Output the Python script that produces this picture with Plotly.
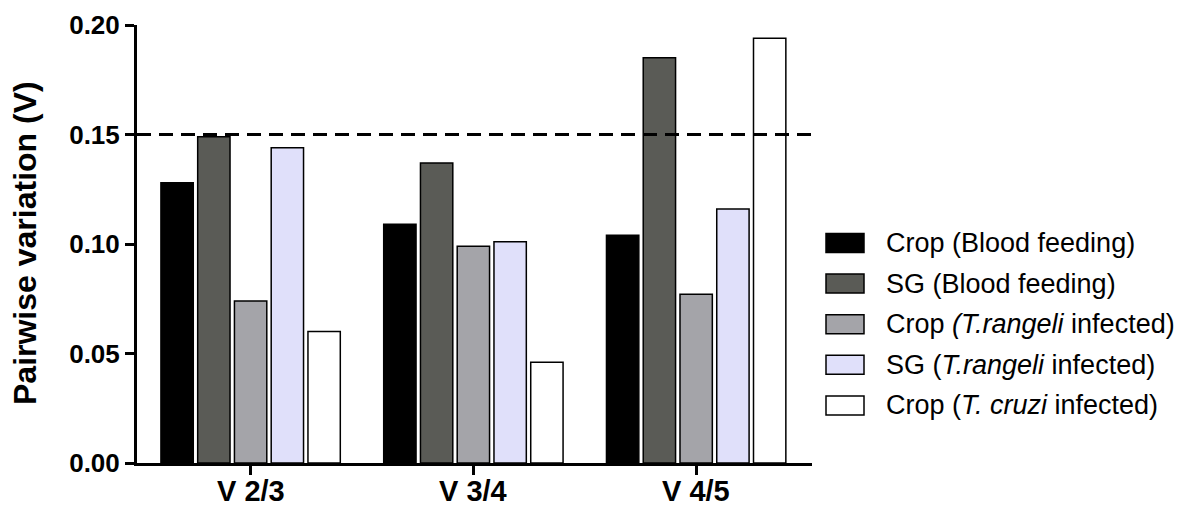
import plotly.graph_objects as go

categories = ["V 2/3", "V 3/4", "V 4/5"]
series_names = [
    "Crop (Blood feeding)",
    "SG (Blood feeding)",
    "Crop <i>(T.rangeli</i> infected)",
    "SG (<i>T.rangeli</i> infected)",
    "Crop (<i>T. cruzi</i> infected)",
]
crop_blood = [0.128, 0.109, 0.104]
sg_blood = [0.149, 0.137, 0.185]
crop_trangeli = [0.074, 0.099, 0.077]
sg_trangeli = [0.144, 0.101, 0.116]
crop_tcruzi = [0.060, 0.046, 0.194]
series_values = [crop_blood, sg_blood, crop_trangeli, sg_trangeli, crop_tcruzi]
colors = ["#000000", "#5a5b56", "#a4a4a9", "#e0e0fa", "#ffffff"]
threshold = 0.15
y_ticks = [0.00, 0.05, 0.10, 0.15, 0.20]

FONT = "Liberation Sans"
W, H = 1200, 508
L, R, T, B = 137, 388, 25, 45
pw = W - L - R
ph = H - T - B

fig = go.Figure()
for name, vals, col in zip(series_names, series_values, colors):
    fig.add_trace(go.Bar(
        x=categories, y=vals, name=name,
        marker=dict(color=col, line=dict(color="#000000", width=1.5)),
        showlegend=False, hoverinfo="skip",
    ))

fig.add_shape(type="line", xref="paper", yref="y", x0=0, x1=1.002,
              y0=threshold, y1=threshold,
              line=dict(color="#000000", width=3, dash="14px,8px"))

# custom legend (large swatches)
def px_x(p):
    return (p - L) / pw

def px_y(p):
    return (H - B - p) / ph

row0, step = 243, 40.6
for i, (name, col) in enumerate(zip(series_names, colors)):
    cy = row0 + i * step
    fig.add_shape(type="rect", xref="paper", yref="paper",
                  x0=px_x(826), x1=px_x(864), y0=px_y(cy + 9.5), y1=px_y(cy - 9.5),
                  fillcolor=col, line=dict(color="#000000", width=1.5))
    fig.add_annotation(xref="paper", yref="paper", x=px_x(884), y=px_y(cy),
                       text=name, showarrow=False, xanchor="left", yanchor="middle",
                       font=dict(family=FONT, size=27, color="#000000"))

# x tick labels (placed closer to the axis than plotly's default)
for cat in categories:
    fig.add_annotation(xref="x", yref="paper", x=cat, y=px_y(491),
                       text=cat, showarrow=False, xanchor="center", yanchor="middle",
                       font=dict(family=FONT, size=29, color="#000000", weight="bold"))

fig.add_annotation(xref="paper", yref="paper", x=px_x(25), y=px_y(243),
                   text="Pairwise variation (V)", textangle=-90, showarrow=False,
                   xanchor="center", yanchor="middle",
                   font=dict(family=FONT, size=32, color="#000000", weight="bold"))

fig.update_layout(
    width=W, height=H,
    margin=dict(l=L, r=R, t=T, b=B, pad=0, autoexpand=False),
    paper_bgcolor="white", plot_bgcolor="white",
    barmode="group", bargap=0.175, bargroupgap=0.12,
    showlegend=False,
    font=dict(family=FONT, color="#000000"),
)
fig.update_xaxes(
    type="category", range=[-0.51, 2.52], automargin=False,
    showline=True, linecolor="#000000", linewidth=3,
    ticks="outside", ticklen=9, tickwidth=3, tickcolor="#000000",
    showticklabels=False,
    showgrid=False, zeroline=False,
)
fig.update_yaxes(
    range=[0, 0.2], tickvals=y_ticks, tickformat=".2f", automargin=False,
    showline=True, linecolor="#000000", linewidth=3,
    ticks="outside", ticklen=9, tickwidth=3, tickcolor="#000000",
    tickfont=dict(family=FONT, size=26, color="#000000", weight="bold"),
    showgrid=False, zeroline=False,
)

fig.write_html(
    "out.html",
    config={"displayModeBar": False},
    post_script="document.body.style.margin='0';document.body.style.overflow='hidden';",
)
